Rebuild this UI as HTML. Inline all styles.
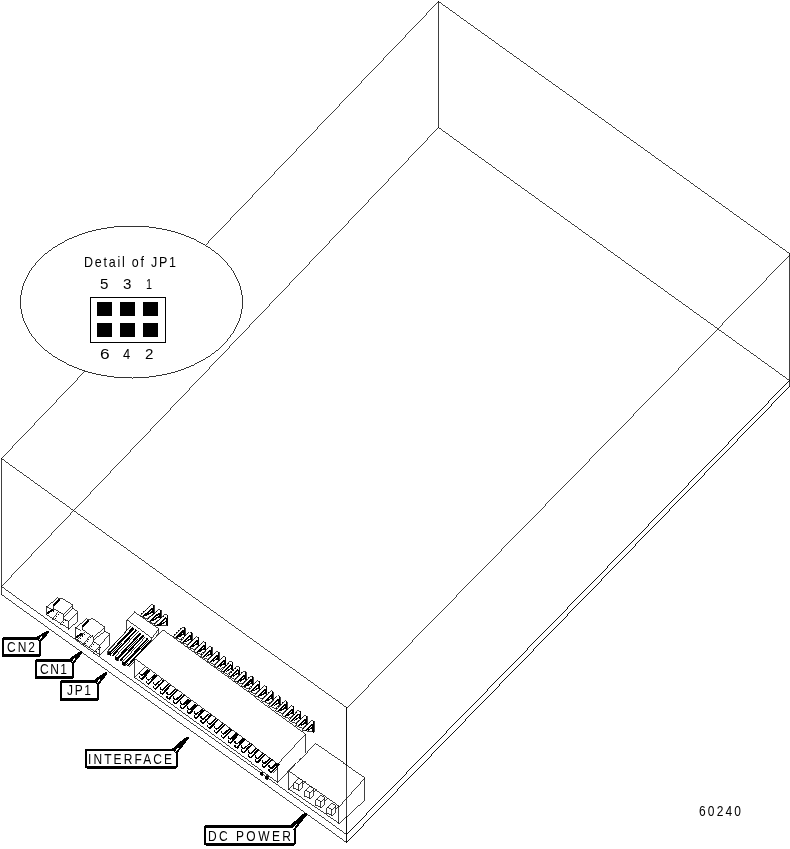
<!DOCTYPE html>
<html><head><meta charset="utf-8"><style>
html,body{margin:0;padding:0;background:#fff;overflow:hidden;}
svg{display:block;will-change:transform;}
text{font-family:"Liberation Sans",sans-serif;fill:#000;opacity:0.999;}
</style></head><body>
<svg width="790" height="849" viewBox="0 0 790 849">
<defs><pattern id="ck" width="2" height="2" patternUnits="userSpaceOnUse"><rect width="1" height="1" fill="#000"/><rect x="1" y="1" width="1" height="1" fill="#000"/></pattern></defs>
<g fill="none" shape-rendering="crispEdges">
<line x1="438.13" y1="1.24" x2="789.87" y2="253.76" stroke="#000" stroke-width="0.75"/>
<line x1="438.81" y1="1.17" x2="1.19" y2="458.83" stroke="#000" stroke-width="0.75"/>
<line x1="1.14" y1="458.24" x2="346.86" y2="707.76" stroke="#000" stroke-width="0.75"/>
<line x1="789.81" y1="255.18" x2="346.19" y2="708.82" stroke="#000" stroke-width="0.75"/>
<line x1="438.5" y1="1.05" x2="438.5" y2="127.95" stroke="#000" stroke-width="0.75"/>
<line x1="789.5" y1="253.05" x2="789.5" y2="386.95" stroke="#000" stroke-width="0.75"/>
<line x1="1.5" y1="458.05" x2="1.5" y2="594.95" stroke="#000" stroke-width="0.75"/>
<line x1="346.5" y1="707.05" x2="346.5" y2="842.95" stroke="#000" stroke-width="0.75"/>
<line x1="438.13" y1="127.24" x2="789.87" y2="380.76" stroke="#000" stroke-width="0.75"/>
<line x1="438.81" y1="127.17" x2="1.19" y2="586.83" stroke="#000" stroke-width="0.75"/>
<line x1="1.13" y1="586.24" x2="346.87" y2="834.76" stroke="#000" stroke-width="0.75"/>
<line x1="789.81" y1="380.18" x2="346.19" y2="834.82" stroke="#000" stroke-width="0.75"/>
<line x1="1.13" y1="594.24" x2="346.87" y2="842.76" stroke="#000" stroke-width="0.75"/>
<line x1="346.19" y1="842.82" x2="789.81" y2="386.18" stroke="#000" stroke-width="0.75"/>
</g>
<g shape-rendering="crispEdges">
<polygon points="46.5,606.5 56.5,597.5 61.5,598.5 72.5,605.5 72.5,608.5 77.5,612.5 77.5,620.5 68.5,628.5 46.5,614.5" fill="#fff" stroke="none"/>
<polyline points="46.5,606.5 56.5,597.5 59.5,599.5" fill="none" stroke="#000" stroke-width="0.75"/>
<line x1="59.1" y1="599.7" x2="61.9" y2="598.3" stroke="#000" stroke-width="0.75"/>
<polyline points="61.5,598.5 72.5,605.5 72.5,608.5 77.5,612.5 77.5,620.5 68.5,628.5" fill="none" stroke="#000" stroke-width="0.75"/>
<line x1="59.82" y1="599.18" x2="53.18" y2="605.82" stroke="#000" stroke-width="1.5"/>
<line x1="53.5" y1="605.05" x2="53.5" y2="608.95" stroke="#000" stroke-width="0.75"/>
<line x1="68.5" y1="621.05" x2="68.5" y2="629.95" stroke="#000" stroke-width="0.75"/>
<line x1="68.18" y1="621.82" x2="77.82" y2="612.18" stroke="#000" stroke-width="0.75"/>
<line x1="72.82" y1="605.18" x2="63.18" y2="614.82" stroke="#000" stroke-width="0.75"/>
<line x1="72.83" y1="608.19" x2="63.67" y2="616.81" stroke="#000" stroke-width="0.75"/>
<line x1="63.5" y1="614.05" x2="63.5" y2="618.95" stroke="#000" stroke-width="0.75"/>
<line x1="63.11" y1="618.27" x2="68.89" y2="621.73" stroke="#000" stroke-width="0.75"/>
<line x1="53.11" y1="608.27" x2="63.89" y2="614.73" stroke="#000" stroke-width="0.75"/>
<line x1="46.11" y1="606.27" x2="51.89" y2="609.73" stroke="#000" stroke-width="0.75"/>
<line x1="46.5" y1="606.05" x2="46.5" y2="614.95" stroke="#000" stroke-width="0.75"/>
<line x1="47.15" y1="613.78" x2="52.85" y2="609.22" stroke="#000" stroke-width="2"/>
<polygon points="51.5,609.5 53.5,609.5 53.5,611.5 51.5,610.5" fill="#000" stroke="#000" stroke-width="0.75"/>
<line x1="46.12" y1="614.26" x2="68.88" y2="628.74" stroke="#000" stroke-width="0.75"/>
<line x1="58.78" y1="611.15" x2="52.72" y2="618.85" stroke="#000" stroke-width="0.75"/>
<rect x="55" y="618" width="1" height="1" fill="#000"/>
<rect x="56" y="616" width="1" height="1" fill="#000"/>
<rect x="58" y="614" width="1" height="1" fill="#000"/>
<rect x="60" y="612" width="1" height="1" fill="#000"/>
<line x1="52.05" y1="619" x2="53.95" y2="619" stroke="#000" stroke-width="0.75"/>
<line x1="64.3" y1="619.16" x2="60.2" y2="623.84" stroke="#000" stroke-width="0.75"/>
<rect x="62" y="624" width="1" height="1" fill="#000"/>
<rect x="63" y="622" width="1" height="1" fill="#000"/>
<rect x="65" y="620" width="1" height="1" fill="#000"/>
<line x1="59.55" y1="624" x2="61.45" y2="624" stroke="#000" stroke-width="0.75"/>
<polygon points="75.5,627.5 85.5,618.5 91.5,618.5 104.5,627.5 104.5,631.5 109.5,634.5 109.5,644.5 99.5,654.5 75.5,638.5" fill="#fff" stroke="none"/>
<polyline points="75.5,627.5 85.5,618.5 88.5,620.5" fill="none" stroke="#000" stroke-width="0.75"/>
<line x1="88.13" y1="620.75" x2="91.87" y2="618.25" stroke="#000" stroke-width="0.75"/>
<polyline points="91.5,618.5 104.5,627.5 104.5,631.5 109.5,634.5 109.5,644.5 99.5,654.5" fill="none" stroke="#000" stroke-width="0.75"/>
<line x1="88.82" y1="620.18" x2="82.18" y2="626.82" stroke="#000" stroke-width="1.5"/>
<line x1="82.5" y1="626.05" x2="82.5" y2="629.95" stroke="#000" stroke-width="0.75"/>
<line x1="99.5" y1="645.05" x2="99.5" y2="655.95" stroke="#000" stroke-width="0.75"/>
<line x1="99.2" y1="645.83" x2="109.8" y2="634.17" stroke="#000" stroke-width="0.75"/>
<line x1="104.83" y1="627.2" x2="93.17" y2="637.8" stroke="#000" stroke-width="0.75"/>
<line x1="104.86" y1="631.23" x2="93.64" y2="639.77" stroke="#000" stroke-width="0.75"/>
<line x1="93.5" y1="637.05" x2="93.5" y2="641.95" stroke="#000" stroke-width="0.75"/>
<line x1="93.13" y1="641.25" x2="99.87" y2="645.75" stroke="#000" stroke-width="0.75"/>
<line x1="82.14" y1="629.24" x2="93.86" y2="637.76" stroke="#000" stroke-width="0.75"/>
<line x1="75.11" y1="627.27" x2="80.89" y2="630.73" stroke="#000" stroke-width="0.75"/>
<line x1="75.5" y1="627.05" x2="75.5" y2="638.95" stroke="#000" stroke-width="0.75"/>
<line x1="76.15" y1="637.78" x2="81.85" y2="633.22" stroke="#000" stroke-width="2"/>
<polygon points="80.5,633.5 82.5,633.5 82.5,635.5 80.5,634.5" fill="#000" stroke="#000" stroke-width="0.75"/>
<line x1="75.13" y1="638.25" x2="99.87" y2="654.75" stroke="#000" stroke-width="0.75"/>
<line x1="84.8" y1="631.66" x2="77.2" y2="640.34" stroke="#000" stroke-width="0.75"/>
<rect x="78" y="640" width="1" height="1" fill="#000"/>
<rect x="80" y="638" width="1" height="1" fill="#000"/>
<rect x="82" y="636" width="1" height="1" fill="#000"/>
<rect x="84" y="634" width="1" height="1" fill="#000"/>
<rect x="86" y="632" width="1" height="1" fill="#000"/>
<line x1="76.55" y1="640.5" x2="78.45" y2="640.5" stroke="#000" stroke-width="0.75"/>
<line x1="90.77" y1="634.64" x2="83.23" y2="644.86" stroke="#000" stroke-width="0.75"/>
<rect x="85" y="643" width="1" height="1" fill="#000"/>
<rect x="87" y="641" width="1" height="1" fill="#000"/>
<rect x="88" y="639" width="1" height="1" fill="#000"/>
<rect x="90" y="637" width="1" height="1" fill="#000"/>
<rect x="92" y="635" width="1" height="1" fill="#000"/>
<line x1="82.55" y1="645" x2="84.45" y2="645" stroke="#000" stroke-width="0.75"/>
<line x1="93.76" y1="641.14" x2="89.24" y2="647.36" stroke="#000" stroke-width="0.75"/>
<rect x="91" y="646" width="1" height="1" fill="#000"/>
<rect x="93" y="644" width="1" height="1" fill="#000"/>
<rect x="94" y="642" width="1" height="1" fill="#000"/>
<line x1="88.55" y1="647.5" x2="90.45" y2="647.5" stroke="#000" stroke-width="0.75"/>
<line x1="99.3" y1="646.67" x2="93.7" y2="652.83" stroke="#000" stroke-width="0.75"/>
<rect x="96" y="651" width="1" height="1" fill="#000"/>
<rect x="98" y="649" width="1" height="1" fill="#000"/>
<rect x="100" y="647" width="1" height="1" fill="#000"/>
<line x1="93.05" y1="653" x2="94.95" y2="653" stroke="#000" stroke-width="0.75"/>
<polygon points="139.9,615.8 151.9,604.3 153.9,605.3 154.4,605.3 154.4,613.3 146.9,618.8" fill="#fff" stroke="#000" stroke-width="0.75"/>
<line x1="153.9" y1="604.85" x2="153.9" y2="613.75" stroke="#000" stroke-width="1"/>
<line x1="143.06" y1="616.6" x2="152.74" y2="608" stroke="#000" stroke-width="1.5"/>
<line x1="152.9" y1="607.85" x2="152.9" y2="612.75" stroke="#000" stroke-width="1"/>
<line x1="145.52" y1="616.04" x2="153.28" y2="611.06" stroke="#000" stroke-width="1.2"/>
<rect x="141" y="613" width="1" height="1" fill="#000"/>
<rect x="143" y="611" width="1" height="1" fill="#000"/>
<rect x="145" y="610" width="1" height="1" fill="#000"/>
<rect x="147" y="608" width="1" height="1" fill="#000"/>
<rect x="149" y="606" width="1" height="1" fill="#000"/>
<polygon points="146.6,620.7 158.6,609.2 160.6,610.2 161.1,610.2 161.1,618.2 153.6,623.7" fill="#fff" stroke="#000" stroke-width="0.75"/>
<line x1="160.6" y1="609.75" x2="160.6" y2="618.65" stroke="#000" stroke-width="1"/>
<line x1="149.76" y1="621.5" x2="159.44" y2="612.9" stroke="#000" stroke-width="1.5"/>
<line x1="159.6" y1="612.75" x2="159.6" y2="617.65" stroke="#000" stroke-width="1"/>
<line x1="152.22" y1="620.94" x2="159.98" y2="615.96" stroke="#000" stroke-width="1.2"/>
<rect x="148" y="618" width="1" height="1" fill="#000"/>
<rect x="150" y="616" width="1" height="1" fill="#000"/>
<rect x="152" y="614" width="1" height="1" fill="#000"/>
<rect x="154" y="613" width="1" height="1" fill="#000"/>
<rect x="156" y="611" width="1" height="1" fill="#000"/>
<polygon points="153.3,625.6 165.3,614.1 167.3,615.1 167.8,615.1 167.8,625.1 153.3,625.6" fill="#fff" stroke="#000" stroke-width="0.75"/>
<line x1="167.3" y1="614.65" x2="167.3" y2="625.55" stroke="#000" stroke-width="1"/>
<line x1="156.46" y1="626.4" x2="166.14" y2="617.8" stroke="#000" stroke-width="1.5"/>
<line x1="166.3" y1="617.65" x2="166.3" y2="624.55" stroke="#000" stroke-width="1"/>
<line x1="158.92" y1="625.84" x2="166.68" y2="620.86" stroke="#000" stroke-width="1.2"/>
<rect x="154" y="623" width="1" height="1" fill="#000"/>
<rect x="156" y="621" width="1" height="1" fill="#000"/>
<rect x="159" y="619" width="1" height="1" fill="#000"/>
<rect x="161" y="617" width="1" height="1" fill="#000"/>
<rect x="163" y="616" width="1" height="1" fill="#000"/>
<polygon points="126.8,619.5 134,611.5 142,617.3 158.9,628.8 158.9,632.8 151.9,642 126.9,630.5" fill="#fff" stroke="#000" stroke-width="0.75"/>
<polyline points="126.8,619.5 151.9,638.2 158.9,628.8" fill="none" stroke="#000" stroke-width="0.75"/>
<line x1="151.9" y1="637.75" x2="151.9" y2="642.45" stroke="#000" stroke-width="0.75"/>
<line x1="152.21" y1="641.67" x2="134.79" y2="660.03" stroke="#000" stroke-width="0.75"/>
<line x1="127.21" y1="630.17" x2="108.59" y2="649.83" stroke="#000" stroke-width="0.75"/>
<polygon points="127,630.5 132.5,626.5 152.5,641.5 129.5,666.5 108.5,650.5" fill="#fff" stroke="none"/>
<line x1="130.8" y1="626.27" x2="107.2" y2="651.93" stroke="#000" stroke-width="0.8"/>
<line x1="133.05" y1="627.83" x2="109.45" y2="653.49" stroke="#000" stroke-width="1.7"/>
<polygon points="133.375,628.44 134.65,629.3240000000001 111.65,654.3240000000001 110.375,653.44" fill="url(#ck)" stroke="none"/>
<line x1="136.2" y1="630.01" x2="112.6" y2="655.68" stroke="#000" stroke-width="1.7"/>
<polygon points="107.5,651.6 110.5,652.6 110.5,655.6 107.5,654.6" fill="#000" stroke="#000" stroke-width="0.75"/>
<line x1="138.3" y1="631.47" x2="114.7" y2="657.13" stroke="#000" stroke-width="0.8"/>
<line x1="140.55" y1="633.03" x2="116.95" y2="658.69" stroke="#000" stroke-width="1.7"/>
<polygon points="140.875,633.64 142.15,634.524 119.15,659.524 117.875,658.64" fill="url(#ck)" stroke="none"/>
<line x1="143.7" y1="635.21" x2="120.1" y2="660.88" stroke="#000" stroke-width="1.7"/>
<polygon points="115,656.8 118,657.8 118,660.8 115,659.8" fill="#000" stroke="#000" stroke-width="0.75"/>
<line x1="145.7" y1="636.57" x2="122.1" y2="662.23" stroke="#000" stroke-width="0.8"/>
<line x1="147.95" y1="638.13" x2="124.35" y2="663.79" stroke="#000" stroke-width="1.7"/>
<polygon points="148.275,638.74 149.55,639.624 126.55000000000001,664.624 125.275,663.74" fill="url(#ck)" stroke="none"/>
<line x1="151.1" y1="640.31" x2="127.5" y2="665.98" stroke="#000" stroke-width="1.7"/>
<polygon points="122.4,661.9 125.4,662.9 125.4,665.9 122.4,664.9" fill="#000" stroke="#000" stroke-width="0.75"/>
<line x1="152.8" y1="641.17" x2="129.2" y2="666.83" stroke="#000" stroke-width="0.75"/>
<polygon points="173.3,636.7 182.8,626.7 184.8,627.7 185.3,627.7 185.3,635.7 180.3,639.7" fill="#fff" stroke="#000" stroke-width="0.75"/>
<line x1="184.8" y1="627.25" x2="184.8" y2="636.15" stroke="#000" stroke-width="1"/>
<line x1="176.48" y1="637.52" x2="183.62" y2="630.38" stroke="#000" stroke-width="1.5"/>
<line x1="183.8" y1="630.25" x2="183.8" y2="635.15" stroke="#000" stroke-width="1"/>
<line x1="178.93" y1="636.95" x2="184.17" y2="633.45" stroke="#000" stroke-width="1.2"/>
<rect x="174" y="634" width="1" height="1" fill="#000"/>
<rect x="176" y="632" width="1" height="1" fill="#000"/>
<rect x="178" y="630" width="1" height="1" fill="#000"/>
<rect x="180" y="628" width="1" height="1" fill="#000"/>
<polygon points="180.08,641.62 189.58,631.62 191.58,632.62 192.08,632.62 192.08,640.62 187.08,644.62" fill="#fff" stroke="#000" stroke-width="0.75"/>
<line x1="191.58" y1="632.17" x2="191.58" y2="641.07" stroke="#000" stroke-width="1"/>
<line x1="183.26" y1="642.44" x2="190.4" y2="635.3" stroke="#000" stroke-width="1.5"/>
<line x1="190.58" y1="635.17" x2="190.58" y2="640.07" stroke="#000" stroke-width="1"/>
<line x1="185.71" y1="641.87" x2="190.95" y2="638.37" stroke="#000" stroke-width="1.2"/>
<rect x="181" y="639" width="1" height="1" fill="#000"/>
<rect x="183" y="637" width="1" height="1" fill="#000"/>
<rect x="185" y="635" width="1" height="1" fill="#000"/>
<rect x="187" y="633" width="1" height="1" fill="#000"/>
<polygon points="186.86,646.54 196.36,636.54 198.36,637.54 198.86,637.54 198.86,645.54 193.86,649.54" fill="#fff" stroke="#000" stroke-width="0.75"/>
<line x1="198.36" y1="637.09" x2="198.36" y2="645.99" stroke="#000" stroke-width="1"/>
<line x1="190.04" y1="647.36" x2="197.18" y2="640.22" stroke="#000" stroke-width="1.5"/>
<line x1="197.36" y1="640.09" x2="197.36" y2="644.99" stroke="#000" stroke-width="1"/>
<line x1="192.49" y1="646.79" x2="197.73" y2="643.29" stroke="#000" stroke-width="1.2"/>
<rect x="188" y="644" width="1" height="1" fill="#000"/>
<rect x="190" y="642" width="1" height="1" fill="#000"/>
<rect x="192" y="640" width="1" height="1" fill="#000"/>
<rect x="194" y="638" width="1" height="1" fill="#000"/>
<polygon points="193.64,651.46 203.14,641.46 205.14,642.46 205.64,642.46 205.64,650.46 200.64,654.46" fill="#fff" stroke="#000" stroke-width="0.75"/>
<line x1="205.14" y1="642.01" x2="205.14" y2="650.91" stroke="#000" stroke-width="1"/>
<line x1="196.82" y1="652.28" x2="203.96" y2="645.14" stroke="#000" stroke-width="1.5"/>
<line x1="204.14" y1="645.01" x2="204.14" y2="649.91" stroke="#000" stroke-width="1"/>
<line x1="199.27" y1="651.71" x2="204.51" y2="648.21" stroke="#000" stroke-width="1.2"/>
<rect x="195" y="649" width="1" height="1" fill="#000"/>
<rect x="197" y="647" width="1" height="1" fill="#000"/>
<rect x="199" y="645" width="1" height="1" fill="#000"/>
<rect x="201" y="643" width="1" height="1" fill="#000"/>
<polygon points="200.42,656.38 209.92,646.38 211.92,647.38 212.42,647.38 212.42,655.38 207.42,659.38" fill="#fff" stroke="#000" stroke-width="0.75"/>
<line x1="211.92" y1="646.93" x2="211.92" y2="655.83" stroke="#000" stroke-width="1"/>
<line x1="203.6" y1="657.2" x2="210.74" y2="650.06" stroke="#000" stroke-width="1.5"/>
<line x1="210.92" y1="649.93" x2="210.92" y2="654.83" stroke="#000" stroke-width="1"/>
<line x1="206.05" y1="656.63" x2="211.29" y2="653.13" stroke="#000" stroke-width="1.2"/>
<rect x="201" y="654" width="1" height="1" fill="#000"/>
<rect x="203" y="652" width="1" height="1" fill="#000"/>
<rect x="205" y="650" width="1" height="1" fill="#000"/>
<rect x="207" y="648" width="1" height="1" fill="#000"/>
<polygon points="207.2,661.3 216.7,651.3 218.7,652.3 219.2,652.3 219.2,660.3 214.2,664.3" fill="#fff" stroke="#000" stroke-width="0.75"/>
<line x1="218.7" y1="651.85" x2="218.7" y2="660.75" stroke="#000" stroke-width="1"/>
<line x1="210.38" y1="662.12" x2="217.52" y2="654.98" stroke="#000" stroke-width="1.5"/>
<line x1="217.7" y1="654.85" x2="217.7" y2="659.75" stroke="#000" stroke-width="1"/>
<line x1="212.83" y1="661.55" x2="218.07" y2="658.05" stroke="#000" stroke-width="1.2"/>
<rect x="208" y="659" width="1" height="1" fill="#000"/>
<rect x="210" y="657" width="1" height="1" fill="#000"/>
<rect x="212" y="655" width="1" height="1" fill="#000"/>
<rect x="214" y="653" width="1" height="1" fill="#000"/>
<polygon points="213.98,666.22 223.48,656.22 225.48,657.22 225.98,657.22 225.98,665.22 220.98,669.22" fill="#fff" stroke="#000" stroke-width="0.75"/>
<line x1="225.48" y1="656.77" x2="225.48" y2="665.67" stroke="#000" stroke-width="1"/>
<line x1="217.16" y1="667.04" x2="224.3" y2="659.9" stroke="#000" stroke-width="1.5"/>
<line x1="224.48" y1="659.77" x2="224.48" y2="664.67" stroke="#000" stroke-width="1"/>
<line x1="219.61" y1="666.47" x2="224.85" y2="662.97" stroke="#000" stroke-width="1.2"/>
<rect x="215" y="664" width="1" height="1" fill="#000"/>
<rect x="217" y="662" width="1" height="1" fill="#000"/>
<rect x="219" y="660" width="1" height="1" fill="#000"/>
<rect x="221" y="658" width="1" height="1" fill="#000"/>
<polygon points="220.76,671.14 230.26,661.14 232.26,662.14 232.76,662.14 232.76,670.14 227.76,674.14" fill="#fff" stroke="#000" stroke-width="0.75"/>
<line x1="232.26" y1="661.69" x2="232.26" y2="670.59" stroke="#000" stroke-width="1"/>
<line x1="223.94" y1="671.96" x2="231.08" y2="664.82" stroke="#000" stroke-width="1.5"/>
<line x1="231.26" y1="664.69" x2="231.26" y2="669.59" stroke="#000" stroke-width="1"/>
<line x1="226.39" y1="671.39" x2="231.63" y2="667.89" stroke="#000" stroke-width="1.2"/>
<rect x="222" y="669" width="1" height="1" fill="#000"/>
<rect x="224" y="667" width="1" height="1" fill="#000"/>
<rect x="226" y="665" width="1" height="1" fill="#000"/>
<rect x="228" y="663" width="1" height="1" fill="#000"/>
<polygon points="227.54,676.06 237.04,666.06 239.04,667.06 239.54,667.06 239.54,675.06 234.54,679.06" fill="#fff" stroke="#000" stroke-width="0.75"/>
<line x1="239.04" y1="666.61" x2="239.04" y2="675.51" stroke="#000" stroke-width="1"/>
<line x1="230.72" y1="676.88" x2="237.86" y2="669.74" stroke="#000" stroke-width="1.5"/>
<line x1="238.04" y1="669.61" x2="238.04" y2="674.51" stroke="#000" stroke-width="1"/>
<line x1="233.17" y1="676.31" x2="238.41" y2="672.81" stroke="#000" stroke-width="1.2"/>
<rect x="229" y="674" width="1" height="1" fill="#000"/>
<rect x="231" y="672" width="1" height="1" fill="#000"/>
<rect x="233" y="670" width="1" height="1" fill="#000"/>
<rect x="235" y="668" width="1" height="1" fill="#000"/>
<polygon points="234.32,680.98 243.82,670.98 245.82,671.98 246.32,671.98 246.32,679.98 241.32,683.98" fill="#fff" stroke="#000" stroke-width="0.75"/>
<line x1="245.82" y1="671.53" x2="245.82" y2="680.43" stroke="#000" stroke-width="1"/>
<line x1="237.5" y1="681.8" x2="244.64" y2="674.66" stroke="#000" stroke-width="1.5"/>
<line x1="244.82" y1="674.53" x2="244.82" y2="679.43" stroke="#000" stroke-width="1"/>
<line x1="239.95" y1="681.23" x2="245.19" y2="677.73" stroke="#000" stroke-width="1.2"/>
<rect x="235" y="678" width="1" height="1" fill="#000"/>
<rect x="237" y="676" width="1" height="1" fill="#000"/>
<rect x="239" y="674" width="1" height="1" fill="#000"/>
<rect x="241" y="672" width="1" height="1" fill="#000"/>
<polygon points="241.1,685.9 250.6,675.9 252.6,676.9 253.1,676.9 253.1,684.9 248.1,688.9" fill="#fff" stroke="#000" stroke-width="0.75"/>
<line x1="252.6" y1="676.45" x2="252.6" y2="685.35" stroke="#000" stroke-width="1"/>
<line x1="244.28" y1="686.72" x2="251.42" y2="679.58" stroke="#000" stroke-width="1.5"/>
<line x1="251.6" y1="679.45" x2="251.6" y2="684.35" stroke="#000" stroke-width="1"/>
<line x1="246.73" y1="686.15" x2="251.97" y2="682.65" stroke="#000" stroke-width="1.2"/>
<rect x="242" y="683" width="1" height="1" fill="#000"/>
<rect x="244" y="681" width="1" height="1" fill="#000"/>
<rect x="246" y="679" width="1" height="1" fill="#000"/>
<rect x="248" y="677" width="1" height="1" fill="#000"/>
<polygon points="247.88,690.82 257.38,680.82 259.38,681.82 259.88,681.82 259.88,689.82 254.88,693.82" fill="#fff" stroke="#000" stroke-width="0.75"/>
<line x1="259.38" y1="681.37" x2="259.38" y2="690.27" stroke="#000" stroke-width="1"/>
<line x1="251.06" y1="691.64" x2="258.2" y2="684.5" stroke="#000" stroke-width="1.5"/>
<line x1="258.38" y1="684.37" x2="258.38" y2="689.27" stroke="#000" stroke-width="1"/>
<line x1="253.51" y1="691.07" x2="258.75" y2="687.57" stroke="#000" stroke-width="1.2"/>
<rect x="249" y="688" width="1" height="1" fill="#000"/>
<rect x="251" y="686" width="1" height="1" fill="#000"/>
<rect x="253" y="684" width="1" height="1" fill="#000"/>
<rect x="255" y="682" width="1" height="1" fill="#000"/>
<polygon points="254.66,695.74 264.16,685.74 266.16,686.74 266.66,686.74 266.66,694.74 261.66,698.74" fill="#fff" stroke="#000" stroke-width="0.75"/>
<line x1="266.16" y1="686.29" x2="266.16" y2="695.19" stroke="#000" stroke-width="1"/>
<line x1="257.84" y1="696.56" x2="264.98" y2="689.42" stroke="#000" stroke-width="1.5"/>
<line x1="265.16" y1="689.29" x2="265.16" y2="694.19" stroke="#000" stroke-width="1"/>
<line x1="260.29" y1="695.99" x2="265.53" y2="692.49" stroke="#000" stroke-width="1.2"/>
<rect x="256" y="693" width="1" height="1" fill="#000"/>
<rect x="258" y="691" width="1" height="1" fill="#000"/>
<rect x="260" y="689" width="1" height="1" fill="#000"/>
<rect x="262" y="687" width="1" height="1" fill="#000"/>
<polygon points="261.44,700.66 270.94,690.66 272.94,691.66 273.44,691.66 273.44,699.66 268.44,703.66" fill="#fff" stroke="#000" stroke-width="0.75"/>
<line x1="272.94" y1="691.21" x2="272.94" y2="700.11" stroke="#000" stroke-width="1"/>
<line x1="264.62" y1="701.48" x2="271.76" y2="694.34" stroke="#000" stroke-width="1.5"/>
<line x1="271.94" y1="694.21" x2="271.94" y2="699.11" stroke="#000" stroke-width="1"/>
<line x1="267.07" y1="700.91" x2="272.31" y2="697.41" stroke="#000" stroke-width="1.2"/>
<rect x="262" y="698" width="1" height="1" fill="#000"/>
<rect x="264" y="696" width="1" height="1" fill="#000"/>
<rect x="266" y="694" width="1" height="1" fill="#000"/>
<rect x="268" y="692" width="1" height="1" fill="#000"/>
<polygon points="268.22,705.58 277.72,695.58 279.72,696.58 280.22,696.58 280.22,704.58 275.22,708.58" fill="#fff" stroke="#000" stroke-width="0.75"/>
<line x1="279.72" y1="696.13" x2="279.72" y2="705.03" stroke="#000" stroke-width="1"/>
<line x1="271.4" y1="706.4" x2="278.54" y2="699.26" stroke="#000" stroke-width="1.5"/>
<line x1="278.72" y1="699.13" x2="278.72" y2="704.03" stroke="#000" stroke-width="1"/>
<line x1="273.85" y1="705.83" x2="279.09" y2="702.33" stroke="#000" stroke-width="1.2"/>
<rect x="269" y="703" width="1" height="1" fill="#000"/>
<rect x="271" y="701" width="1" height="1" fill="#000"/>
<rect x="273" y="699" width="1" height="1" fill="#000"/>
<rect x="275" y="697" width="1" height="1" fill="#000"/>
<polygon points="275,710.5 284.5,700.5 286.5,701.5 287,701.5 287,709.5 282,713.5" fill="#fff" stroke="#000" stroke-width="0.75"/>
<line x1="286.5" y1="701.05" x2="286.5" y2="709.95" stroke="#000" stroke-width="1"/>
<line x1="278.18" y1="711.32" x2="285.32" y2="704.18" stroke="#000" stroke-width="1.5"/>
<line x1="285.5" y1="704.05" x2="285.5" y2="708.95" stroke="#000" stroke-width="1"/>
<line x1="280.63" y1="710.75" x2="285.87" y2="707.25" stroke="#000" stroke-width="1.2"/>
<rect x="276" y="708" width="1" height="1" fill="#000"/>
<rect x="278" y="706" width="1" height="1" fill="#000"/>
<rect x="280" y="704" width="1" height="1" fill="#000"/>
<rect x="282" y="702" width="1" height="1" fill="#000"/>
<polygon points="281.78,715.42 291.28,705.42 293.28,706.42 293.78,706.42 293.78,714.42 288.78,718.42" fill="#fff" stroke="#000" stroke-width="0.75"/>
<line x1="293.28" y1="705.97" x2="293.28" y2="714.87" stroke="#000" stroke-width="1"/>
<line x1="284.96" y1="716.24" x2="292.1" y2="709.1" stroke="#000" stroke-width="1.5"/>
<line x1="292.28" y1="708.97" x2="292.28" y2="713.87" stroke="#000" stroke-width="1"/>
<line x1="287.41" y1="715.67" x2="292.65" y2="712.17" stroke="#000" stroke-width="1.2"/>
<rect x="283" y="713" width="1" height="1" fill="#000"/>
<rect x="285" y="711" width="1" height="1" fill="#000"/>
<rect x="287" y="709" width="1" height="1" fill="#000"/>
<rect x="289" y="707" width="1" height="1" fill="#000"/>
<polygon points="288.56,720.34 298.06,710.34 300.06,711.34 300.56,711.34 300.56,719.34 295.56,723.34" fill="#fff" stroke="#000" stroke-width="0.75"/>
<line x1="300.06" y1="710.89" x2="300.06" y2="719.79" stroke="#000" stroke-width="1"/>
<line x1="291.74" y1="721.16" x2="298.88" y2="714.02" stroke="#000" stroke-width="1.5"/>
<line x1="299.06" y1="713.89" x2="299.06" y2="718.79" stroke="#000" stroke-width="1"/>
<line x1="294.19" y1="720.59" x2="299.43" y2="717.09" stroke="#000" stroke-width="1.2"/>
<rect x="290" y="718" width="1" height="1" fill="#000"/>
<rect x="292" y="716" width="1" height="1" fill="#000"/>
<rect x="294" y="714" width="1" height="1" fill="#000"/>
<rect x="296" y="712" width="1" height="1" fill="#000"/>
<polygon points="295.34,725.26 304.84,715.26 306.84,716.26 307.34,716.26 307.34,724.26 302.34,728.26" fill="#fff" stroke="#000" stroke-width="0.75"/>
<line x1="306.84" y1="715.81" x2="306.84" y2="724.71" stroke="#000" stroke-width="1"/>
<line x1="298.52" y1="726.08" x2="305.66" y2="718.94" stroke="#000" stroke-width="1.5"/>
<line x1="305.84" y1="718.81" x2="305.84" y2="723.71" stroke="#000" stroke-width="1"/>
<line x1="300.97" y1="725.51" x2="306.21" y2="722.01" stroke="#000" stroke-width="1.2"/>
<rect x="296" y="723" width="1" height="1" fill="#000"/>
<rect x="298" y="721" width="1" height="1" fill="#000"/>
<rect x="300" y="719" width="1" height="1" fill="#000"/>
<rect x="302" y="717" width="1" height="1" fill="#000"/>
<polygon points="302.12,730.18 311.62,720.18 313.62,721.18 314.12,721.18 314.12,732.18 302.12,730.18" fill="#fff" stroke="#000" stroke-width="0.75"/>
<line x1="313.62" y1="720.73" x2="313.62" y2="732.63" stroke="#000" stroke-width="1"/>
<line x1="305.3" y1="731" x2="312.44" y2="723.86" stroke="#000" stroke-width="1.5"/>
<line x1="312.62" y1="723.73" x2="312.62" y2="731.63" stroke="#000" stroke-width="1"/>
<line x1="307.75" y1="730.43" x2="312.99" y2="726.93" stroke="#000" stroke-width="1.2"/>
<rect x="303" y="728" width="1" height="1" fill="#000"/>
<rect x="305" y="726" width="1" height="1" fill="#000"/>
<rect x="307" y="724" width="1" height="1" fill="#000"/>
<rect x="309" y="722" width="1" height="1" fill="#000"/>
<polygon points="134.5,659 162.5,630.1 305.5,734.1 305.5,752.5 277.8,782.5 134.5,678" fill="#fff" stroke="#000" stroke-width="0.75"/>
<polyline points="134.5,659 277.8,764 305.5,734.1" fill="none" stroke="#000" stroke-width="0.75"/>
<line x1="277.8" y1="763.55" x2="277.8" y2="782.95" stroke="#000" stroke-width="0.75"/>
<line x1="134.19" y1="678.33" x2="144.81" y2="667.17" stroke="#000" stroke-width="0.75"/>
<polygon points="146.50,670.40 149.00,670.40 144.30,675.40 141.80,675.40" fill="url(#ck)" stroke="none"/>
<line x1="150.11" y1="670.57" x2="141.49" y2="679.73" stroke="#000" stroke-width="1.6"/>
<polyline points="141.8,679.4 139.8,677.9 139.8,675.9" fill="none" stroke="#000" stroke-width="1.1"/>
<line x1="148.13" y1="669.6" x2="141.47" y2="675.7" stroke="#000" stroke-width="1.3"/>
<polyline points="141.8,675.4 139.8,673.9 139.8,671.9" fill="none" stroke="#000" stroke-width="1.1"/>
<polygon points="153.30,675.30 155.80,675.30 151.10,680.30 148.60,680.30" fill="url(#ck)" stroke="none"/>
<line x1="156.91" y1="675.47" x2="148.29" y2="684.63" stroke="#000" stroke-width="1.6"/>
<polyline points="148.6,684.3 146.6,682.8 146.6,680.8" fill="none" stroke="#000" stroke-width="1.1"/>
<line x1="154.93" y1="674.5" x2="148.27" y2="680.6" stroke="#000" stroke-width="1.3"/>
<polyline points="148.6,680.3 146.6,678.8 146.6,676.8" fill="none" stroke="#000" stroke-width="1.1"/>
<polygon points="160.10,680.20 162.60,680.20 157.90,685.20 155.40,685.20" fill="url(#ck)" stroke="none"/>
<line x1="163.71" y1="680.37" x2="155.09" y2="689.53" stroke="#000" stroke-width="1.6"/>
<polyline points="155.4,689.2 153.4,687.7 153.4,685.7" fill="none" stroke="#000" stroke-width="1.1"/>
<line x1="161.73" y1="679.4" x2="155.07" y2="685.5" stroke="#000" stroke-width="1.3"/>
<polyline points="155.4,685.2 153.4,683.7 153.4,681.7" fill="none" stroke="#000" stroke-width="1.1"/>
<polygon points="166.90,685.10 169.40,685.10 164.70,690.10 162.20,690.10" fill="url(#ck)" stroke="none"/>
<line x1="170.51" y1="685.27" x2="161.89" y2="694.43" stroke="#000" stroke-width="1.6"/>
<polyline points="162.2,694.1 160.2,692.6 160.2,690.6" fill="none" stroke="#000" stroke-width="1.1"/>
<line x1="168.53" y1="684.3" x2="161.87" y2="690.4" stroke="#000" stroke-width="1.3"/>
<polyline points="162.2,690.1 160.2,688.6 160.2,686.6" fill="none" stroke="#000" stroke-width="1.1"/>
<polygon points="173.70,690.00 176.20,690.00 171.50,695.00 169.00,695.00" fill="url(#ck)" stroke="none"/>
<line x1="177.31" y1="690.17" x2="168.69" y2="699.33" stroke="#000" stroke-width="1.6"/>
<polyline points="169,699 167,697.5 167,695.5" fill="none" stroke="#000" stroke-width="1.1"/>
<line x1="175.33" y1="689.2" x2="168.67" y2="695.3" stroke="#000" stroke-width="1.3"/>
<polyline points="169,695 167,693.5 167,691.5" fill="none" stroke="#000" stroke-width="1.1"/>
<polygon points="180.50,694.90 183.00,694.90 178.30,699.90 175.80,699.90" fill="url(#ck)" stroke="none"/>
<line x1="184.11" y1="695.07" x2="175.49" y2="704.23" stroke="#000" stroke-width="1.6"/>
<polyline points="175.8,703.9 173.8,702.4 173.8,700.4" fill="none" stroke="#000" stroke-width="1.1"/>
<line x1="182.13" y1="694.1" x2="175.47" y2="700.2" stroke="#000" stroke-width="1.3"/>
<polyline points="175.8,699.9 173.8,698.4 173.8,696.4" fill="none" stroke="#000" stroke-width="1.1"/>
<polygon points="187.30,699.80 189.80,699.80 185.10,704.80 182.60,704.80" fill="url(#ck)" stroke="none"/>
<line x1="190.91" y1="699.97" x2="182.29" y2="709.13" stroke="#000" stroke-width="1.6"/>
<polyline points="182.6,708.8 180.6,707.3 180.6,705.3" fill="none" stroke="#000" stroke-width="1.1"/>
<line x1="188.93" y1="699" x2="182.27" y2="705.1" stroke="#000" stroke-width="1.3"/>
<polyline points="182.6,704.8 180.6,703.3 180.6,701.3" fill="none" stroke="#000" stroke-width="1.1"/>
<polygon points="194.10,704.70 196.60,704.70 191.90,709.70 189.40,709.70" fill="url(#ck)" stroke="none"/>
<line x1="197.71" y1="704.87" x2="189.09" y2="714.03" stroke="#000" stroke-width="1.6"/>
<polyline points="189.4,713.7 187.4,712.2 187.4,710.2" fill="none" stroke="#000" stroke-width="1.1"/>
<line x1="195.73" y1="703.9" x2="189.07" y2="710" stroke="#000" stroke-width="1.3"/>
<polyline points="189.4,709.7 187.4,708.2 187.4,706.2" fill="none" stroke="#000" stroke-width="1.1"/>
<polygon points="200.90,709.60 203.40,709.60 198.70,714.60 196.20,714.60" fill="url(#ck)" stroke="none"/>
<line x1="204.51" y1="709.77" x2="195.89" y2="718.93" stroke="#000" stroke-width="1.6"/>
<polyline points="196.2,718.6 194.2,717.1 194.2,715.1" fill="none" stroke="#000" stroke-width="1.1"/>
<line x1="202.53" y1="708.8" x2="195.87" y2="714.9" stroke="#000" stroke-width="1.3"/>
<polyline points="196.2,714.6 194.2,713.1 194.2,711.1" fill="none" stroke="#000" stroke-width="1.1"/>
<polygon points="207.70,714.50 210.20,714.50 205.50,719.50 203.00,719.50" fill="url(#ck)" stroke="none"/>
<line x1="211.31" y1="714.67" x2="202.69" y2="723.83" stroke="#000" stroke-width="1.6"/>
<polyline points="203,723.5 201,722 201,720" fill="none" stroke="#000" stroke-width="1.1"/>
<line x1="209.33" y1="713.7" x2="202.67" y2="719.8" stroke="#000" stroke-width="1.3"/>
<polyline points="203,719.5 201,718 201,716" fill="none" stroke="#000" stroke-width="1.1"/>
<polygon points="214.50,719.40 217.00,719.40 212.30,724.40 209.80,724.40" fill="url(#ck)" stroke="none"/>
<line x1="218.11" y1="719.57" x2="209.49" y2="728.73" stroke="#000" stroke-width="1.6"/>
<polyline points="209.8,728.4 207.8,726.9 207.8,724.9" fill="none" stroke="#000" stroke-width="1.1"/>
<line x1="216.13" y1="718.6" x2="209.47" y2="724.7" stroke="#000" stroke-width="1.3"/>
<polyline points="209.8,724.4 207.8,722.9 207.8,720.9" fill="none" stroke="#000" stroke-width="1.1"/>
<polygon points="221.30,724.30 223.80,724.30 219.10,729.30 216.60,729.30" fill="url(#ck)" stroke="none"/>
<line x1="224.91" y1="724.47" x2="216.29" y2="733.63" stroke="#000" stroke-width="1.6"/>
<polyline points="216.6,733.3 214.6,731.8 214.6,729.8" fill="none" stroke="#000" stroke-width="1.1"/>
<line x1="222.93" y1="723.5" x2="216.27" y2="729.6" stroke="#000" stroke-width="1.3"/>
<polyline points="216.6,729.3 214.6,727.8 214.6,725.8" fill="none" stroke="#000" stroke-width="1.1"/>
<polygon points="228.10,729.20 230.60,729.20 225.90,734.20 223.40,734.20" fill="url(#ck)" stroke="none"/>
<line x1="231.71" y1="729.37" x2="223.09" y2="738.53" stroke="#000" stroke-width="1.6"/>
<polyline points="223.4,738.2 221.4,736.7 221.4,734.7" fill="none" stroke="#000" stroke-width="1.1"/>
<line x1="229.73" y1="728.4" x2="223.07" y2="734.5" stroke="#000" stroke-width="1.3"/>
<polyline points="223.4,734.2 221.4,732.7 221.4,730.7" fill="none" stroke="#000" stroke-width="1.1"/>
<polygon points="234.90,734.10 237.40,734.10 232.70,739.10 230.20,739.10" fill="url(#ck)" stroke="none"/>
<line x1="238.51" y1="734.27" x2="229.89" y2="743.43" stroke="#000" stroke-width="1.6"/>
<polyline points="230.2,743.1 228.2,741.6 228.2,739.6" fill="none" stroke="#000" stroke-width="1.1"/>
<line x1="236.53" y1="733.3" x2="229.87" y2="739.4" stroke="#000" stroke-width="1.3"/>
<polyline points="230.2,739.1 228.2,737.6 228.2,735.6" fill="none" stroke="#000" stroke-width="1.1"/>
<polygon points="241.70,739.00 244.20,739.00 239.50,744.00 237.00,744.00" fill="url(#ck)" stroke="none"/>
<line x1="245.31" y1="739.17" x2="236.69" y2="748.33" stroke="#000" stroke-width="1.6"/>
<polyline points="237,748 235,746.5 235,744.5" fill="none" stroke="#000" stroke-width="1.1"/>
<line x1="243.33" y1="738.2" x2="236.67" y2="744.3" stroke="#000" stroke-width="1.3"/>
<polyline points="237,744 235,742.5 235,740.5" fill="none" stroke="#000" stroke-width="1.1"/>
<polygon points="248.50,743.90 251.00,743.90 246.30,748.90 243.80,748.90" fill="url(#ck)" stroke="none"/>
<line x1="252.11" y1="744.07" x2="243.49" y2="753.23" stroke="#000" stroke-width="1.6"/>
<polyline points="243.8,752.9 241.8,751.4 241.8,749.4" fill="none" stroke="#000" stroke-width="1.1"/>
<line x1="250.13" y1="743.1" x2="243.47" y2="749.2" stroke="#000" stroke-width="1.3"/>
<polyline points="243.8,748.9 241.8,747.4 241.8,745.4" fill="none" stroke="#000" stroke-width="1.1"/>
<polygon points="255.30,748.80 257.80,748.80 253.10,753.80 250.60,753.80" fill="url(#ck)" stroke="none"/>
<line x1="258.91" y1="748.97" x2="250.29" y2="758.13" stroke="#000" stroke-width="1.6"/>
<polyline points="250.6,757.8 248.6,756.3 248.6,754.3" fill="none" stroke="#000" stroke-width="1.1"/>
<line x1="256.93" y1="748" x2="250.27" y2="754.1" stroke="#000" stroke-width="1.3"/>
<polyline points="250.6,753.8 248.6,752.3 248.6,750.3" fill="none" stroke="#000" stroke-width="1.1"/>
<polygon points="262.10,753.70 264.60,753.70 259.90,758.70 257.40,758.70" fill="url(#ck)" stroke="none"/>
<line x1="265.71" y1="753.87" x2="257.09" y2="763.03" stroke="#000" stroke-width="1.6"/>
<polyline points="257.4,762.7 255.4,761.2 255.4,759.2" fill="none" stroke="#000" stroke-width="1.1"/>
<line x1="263.73" y1="752.9" x2="257.07" y2="759" stroke="#000" stroke-width="1.3"/>
<polyline points="257.4,758.7 255.4,757.2 255.4,755.2" fill="none" stroke="#000" stroke-width="1.1"/>
<polygon points="268.90,758.60 271.40,758.60 266.70,763.60 264.20,763.60" fill="url(#ck)" stroke="none"/>
<line x1="272.51" y1="758.77" x2="263.89" y2="767.93" stroke="#000" stroke-width="1.6"/>
<polyline points="264.2,767.6 262.2,766.1 262.2,764.1" fill="none" stroke="#000" stroke-width="1.1"/>
<line x1="270.53" y1="757.8" x2="263.87" y2="763.9" stroke="#000" stroke-width="1.3"/>
<polyline points="264.2,763.6 262.2,762.1 262.2,760.1" fill="none" stroke="#000" stroke-width="1.1"/>
<polygon points="275.70,763.50 278.20,763.50 273.50,768.50 271.00,768.50" fill="url(#ck)" stroke="none"/>
<line x1="279.31" y1="763.67" x2="270.69" y2="772.83" stroke="#000" stroke-width="1.6"/>
<polyline points="271,772.5 269,771 269,769" fill="none" stroke="#000" stroke-width="1.1"/>
<line x1="277.33" y1="762.7" x2="270.67" y2="768.8" stroke="#000" stroke-width="1.3"/>
<polyline points="271,768.5 269,767 269,765" fill="none" stroke="#000" stroke-width="1.1"/>
<line x1="277.12" y1="765.68" x2="271.48" y2="771.32" stroke="#000" stroke-width="0.75"/>
<line x1="278.12" y1="767.68" x2="272.48" y2="773.32" stroke="#000" stroke-width="0.75"/>
<polygon points="260,772 262.5,772.5 262.5,775.5 260,774.5" fill="#000" stroke="#000" stroke-width="0.75"/>
<polygon points="265.5,775.5 268.5,776.5 267.5,779.5 265,778.5" fill="#000" stroke="#000" stroke-width="0.75"/>
<polygon points="288.5,771.5 314.5,743.5 364.5,777.5 364.5,799.5 338.5,823.5 288.5,789.5" fill="#fff" stroke="#000" stroke-width="0.75"/>
<polyline points="288.5,771.5 338.5,806.5 364.5,777.5" fill="none" stroke="#000" stroke-width="0.75"/>
<line x1="338.5" y1="806.05" x2="338.5" y2="823.95" stroke="#000" stroke-width="0.75"/>
<line x1="288.18" y1="789.82" x2="293.82" y2="784.18" stroke="#000" stroke-width="0.75"/>
<polygon points="293.5,782.5 297.5,778.5 302.5,780.5 302.5,786.5 298.5,790.5 293.5,788.5" fill="#fff" stroke="#000" stroke-width="0.75"/>
<polyline points="293.5,782.5 298.5,784.5 302.5,780.5" fill="none" stroke="#000" stroke-width="0.75"/>
<line x1="298.5" y1="784.05" x2="298.5" y2="790.95" stroke="#000" stroke-width="0.75"/>
<line x1="303.18" y1="783.82" x2="305.82" y2="781.18" stroke="#000" stroke-width="0.75"/>
<polygon points="304.5,790.5 308.5,786.5 313.5,788.5 313.5,794.5 309.5,798.5 304.5,796.5" fill="#fff" stroke="#000" stroke-width="0.75"/>
<polyline points="304.5,790.5 309.5,792.5 313.5,788.5" fill="none" stroke="#000" stroke-width="0.75"/>
<line x1="309.5" y1="792.05" x2="309.5" y2="798.95" stroke="#000" stroke-width="0.75"/>
<line x1="314.18" y1="791.82" x2="316.82" y2="789.18" stroke="#000" stroke-width="0.75"/>
<polygon points="315.5,799.5 319.5,795.5 324.5,797.5 324.5,803.5 320.5,807.5 315.5,805.5" fill="#fff" stroke="#000" stroke-width="0.75"/>
<polyline points="315.5,799.5 320.5,801.5 324.5,797.5" fill="none" stroke="#000" stroke-width="0.75"/>
<line x1="320.5" y1="801.05" x2="320.5" y2="807.95" stroke="#000" stroke-width="0.75"/>
<line x1="325.18" y1="800.82" x2="327.82" y2="798.18" stroke="#000" stroke-width="0.75"/>
<polygon points="326.5,807.5 330.5,803.5 335.5,805.5 335.5,811.5 331.5,815.5 326.5,813.5" fill="#fff" stroke="#000" stroke-width="0.75"/>
<polyline points="326.5,807.5 331.5,809.5 335.5,805.5" fill="none" stroke="#000" stroke-width="0.75"/>
<line x1="331.5" y1="809.05" x2="331.5" y2="815.95" stroke="#000" stroke-width="0.75"/>
<line x1="336.18" y1="808.82" x2="338.82" y2="806.18" stroke="#000" stroke-width="0.75"/>
</g>
<g fill="none" shape-rendering="crispEdges">
<line x1="346.5" y1="707.05" x2="346.5" y2="842.95" stroke="#000" stroke-width="0.75"/>
<line x1="789.81" y1="380.18" x2="346.19" y2="834.82" stroke="#000" stroke-width="0.75"/>
<line x1="346.19" y1="842.82" x2="789.81" y2="386.18" stroke="#000" stroke-width="0.75"/>
</g>
<g shape-rendering="crispEdges">
<rect x="2" y="637" width="39" height="20" rx="2" fill="#000"/>
<rect x="4" y="639.5" width="35" height="14.5" fill="#fff"/>
<polygon points="36,637 44.5,632.3 48.5,630.5 49.5,632.3 41,641.5 39,641.5" fill="#000" stroke="none"/>
<line x1="38.5" y1="640.5" x2="42" y2="636.5" stroke="#fff" stroke-width="1"/>
<text transform="translate(7.00,652.00) scale(1.000,1.143)" font-size="12.0" textLength="28.00" lengthAdjust="spacing">CN2</text>
<rect x="35" y="659" width="39" height="20" rx="2" fill="#000"/>
<rect x="37" y="661.5" width="35" height="14.5" fill="#fff"/>
<polygon points="69,659 77.5,652.8 81.5,651 82.5,652.8 74,663.5 72,663.5" fill="#000" stroke="none"/>
<line x1="71.5" y1="662.5" x2="75" y2="658.5" stroke="#fff" stroke-width="1"/>
<text transform="translate(40.00,674.00) scale(1.000,1.286)" font-size="12.0" textLength="27.00" lengthAdjust="spacing">CN1</text>
<rect x="60" y="680" width="39" height="21" rx="2" fill="#000"/>
<rect x="62" y="682.5" width="35" height="15.5" fill="#fff"/>
<polygon points="94,680 102.5,673.8 106.5,672 107.5,673.8 99,684.5 97,684.5" fill="#000" stroke="none"/>
<line x1="96.5" y1="683.5" x2="100" y2="679.5" stroke="#fff" stroke-width="1"/>
<text transform="translate(67.00,695.00) scale(1.000,1.286)" font-size="12.0" textLength="24.00" lengthAdjust="spacing">JP1</text>
<rect x="85" y="748.5" width="92.5" height="20.0" rx="2" fill="#000"/>
<rect x="87" y="751.0" width="88.5" height="14.5" fill="#fff"/>
<polygon points="172.5,748.5 184,738.3 188,736.5 189,738.3 177.5,753.0 175.5,753.0" fill="#000" stroke="none"/>
<line x1="175.0" y1="752.0" x2="178.5" y2="748.0" stroke="#fff" stroke-width="1"/>
<text transform="translate(88.00,764.00) scale(1.000,1.286)" font-size="12.0" textLength="84.00" lengthAdjust="spacing">INTERFACE</text>
<rect x="204" y="825" width="91.5" height="20.5" rx="2" fill="#000"/>
<rect x="206" y="827.5" width="87.5" height="15.0" fill="#fff"/>
<polygon points="290.5,825 302.5,814.3 306.5,812.5 307.5,814.3 295.5,829.5 293.5,829.5" fill="#000" stroke="none"/>
<line x1="293.0" y1="828.5" x2="296.5" y2="824.5" stroke="#fff" stroke-width="1"/>
<text transform="translate(208.00,841.00) scale(1.000,1.286)" font-size="12.0" textLength="83.00" lengthAdjust="spacing">DC POWER</text>
</g>
<g shape-rendering="crispEdges">
<ellipse cx="131.5" cy="302" rx="111" ry="76" fill="#fff" stroke="#000" stroke-width="0.8"/>
<rect x="90.5" y="297.5" width="75" height="45" fill="none" stroke="#000"/>
<rect x="97" y="302" width="15" height="14" fill="#000"/>
<rect x="97" y="323" width="15" height="14" fill="#000"/>
<rect x="120" y="302" width="15" height="14" fill="#000"/>
<rect x="120" y="323" width="15" height="14" fill="#000"/>
<rect x="143" y="302" width="15" height="14" fill="#000"/>
<rect x="143" y="323" width="15" height="14" fill="#000"/>
<text transform="translate(84.00,267.00) scale(1.000,1.128)" font-size="12.5" textLength="92.00" lengthAdjust="spacing">Detail of JP1</text>
<text transform="translate(100.00,289.00) scale(1.167,1.187)" font-size="13.0">5</text>
<text transform="translate(123.00,289.00) scale(1.167,1.187)" font-size="13.0">3</text>
<text transform="translate(146.00,289.00) scale(0.833,1.187)" font-size="13.0">1</text>
<text transform="translate(100.00,359.00) scale(1.333,1.187)" font-size="13.0">6</text>
<text transform="translate(123.00,359.00) scale(1.000,1.187)" font-size="13.0">4</text>
<text transform="translate(145.00,359.00) scale(1.167,1.187)" font-size="13.0">2</text>
<text transform="translate(699.00,816.00) scale(1.000,1.286)" font-size="12.0" textLength="42.00" lengthAdjust="spacing">60240</text>
</g>
</svg>
</body></html>
